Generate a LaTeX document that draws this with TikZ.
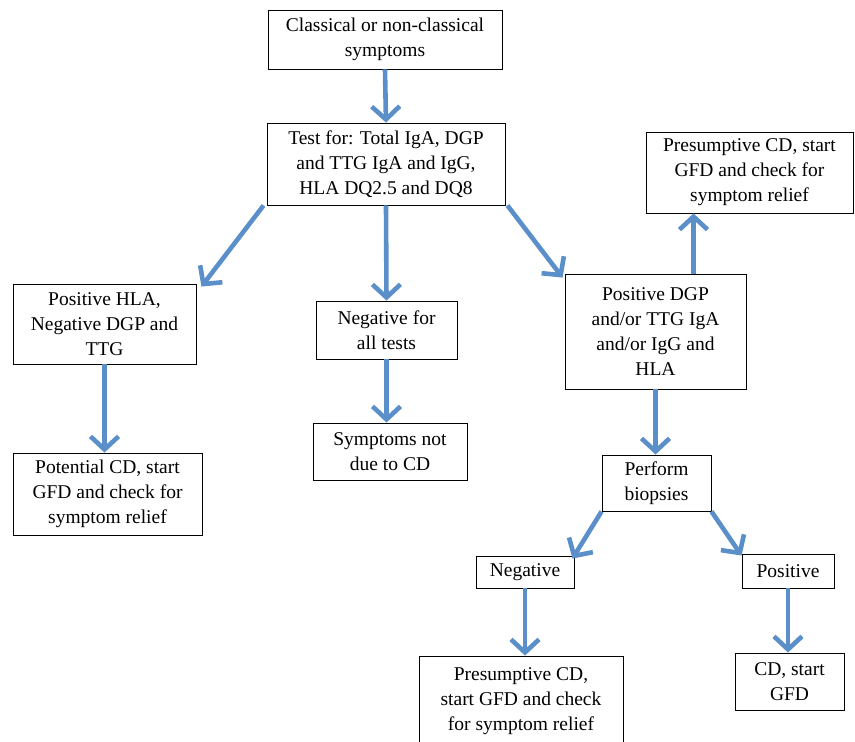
\documentclass[tikz,border=0pt]{standalone}
\usepackage{fontspec}
\setmainfont{Liberation Serif}
\usetikzlibrary{arrows.meta,calc}
\definecolor{arrowblue}{RGB}{91,143,201}
\tikzset{
  box/.style={draw=black, line width=0.9pt, fill=white, inner sep=0pt, align=center,
    font=\fontsize{19.5}{25}\selectfont},
  flow/.style={draw=arrowblue, line width=4.6pt,
    -{Straight Barb[length=13pt, width=28pt, line width=4.6pt]}}
}
\newcommand{\mkbox}[6]{\node[box, minimum width={#4-#2}, minimum height={#5-#3}]
  (#1) at ({(#2+#4)/2},{(#3+#5)/2}) {#6};}
\begin{document}
\begin{tikzpicture}[x=1pt, y=-1pt]
\useasboundingbox (0,0) rectangle (855,742);
\mkbox{top}{268}{10}{502}{69}{Classical or non-classical\\symptoms}
\mkbox{test}{267}{123}{505}{205}{Test for: Total IgA, DGP\\and TTG IgA and IgG,\\HLA DQ2.5 and DQ8}
\mkbox{presA}{646}{132}{853}{213}{Presumptive CD, start\\GFD and check for\\symptom relief}
\mkbox{hla}{13}{284}{196}{364}{Positive HLA,\\Negative DGP and\\TTG}
\mkbox{negall}{316}{301}{457}{359}{Negative for\\all tests}
\mkbox{dgp}{565}{274}{746}{389}{Positive DGP\\and/or TTG IgA\\and/or IgG and\\HLA}
\mkbox{potential}{13}{453}{202}{535}{Potential CD, start\\GFD and check for\\symptom relief}
\mkbox{sym}{313}{423}{467}{480}{Symptoms not\\due to CD}
\mkbox{bio}{602}{455}{711}{511}{Perform\\biopsies}
\mkbox{neg}{476}{556}{574}{588}{Negative}
\mkbox{pos}{742}{554}{834}{588}{Positive}
\mkbox{presB}{419}{656}{623}{746}{Presumptive CD,\\start GFD and check\\for symptom relief}
\mkbox{cd}{735}{653}{844}{710}{CD, start\\GFD}

\draw[flow] (top.south) -- (test.north);
\draw[flow] ([xshift=-3pt]test.south west) -- ([shift={(5pt,-3pt)}]hla.north east);
\draw[flow] (test.south) -- (negall.north);
\draw[flow] ([xshift=2pt]test.south east) -- ([shift={(-2pt,-4pt)}]dgp.north west);
\draw[flow] ([xshift=38pt]dgp.north) -- ([xshift=38pt]dgp.north |- presA.south);
\draw[flow] (hla.south) -- (hla.south |- potential.north);
\draw[flow] (negall.south) -- (negall.south |- sym.north);
\draw[flow] (dgp.south) -- (dgp.south |- bio.north);
\draw[flow] (bio.south west) -- ([shift={(-2pt,-3pt)}]neg.north east);
\draw[flow] (bio.south east) -- ([shift={(0pt,-2pt)}]pos.north west);
\draw[flow] (neg.south) -- (neg.south |- presB.north);
\draw[flow] (pos.south) -- (pos.south |- cd.north);
\end{tikzpicture}
\end{document}
